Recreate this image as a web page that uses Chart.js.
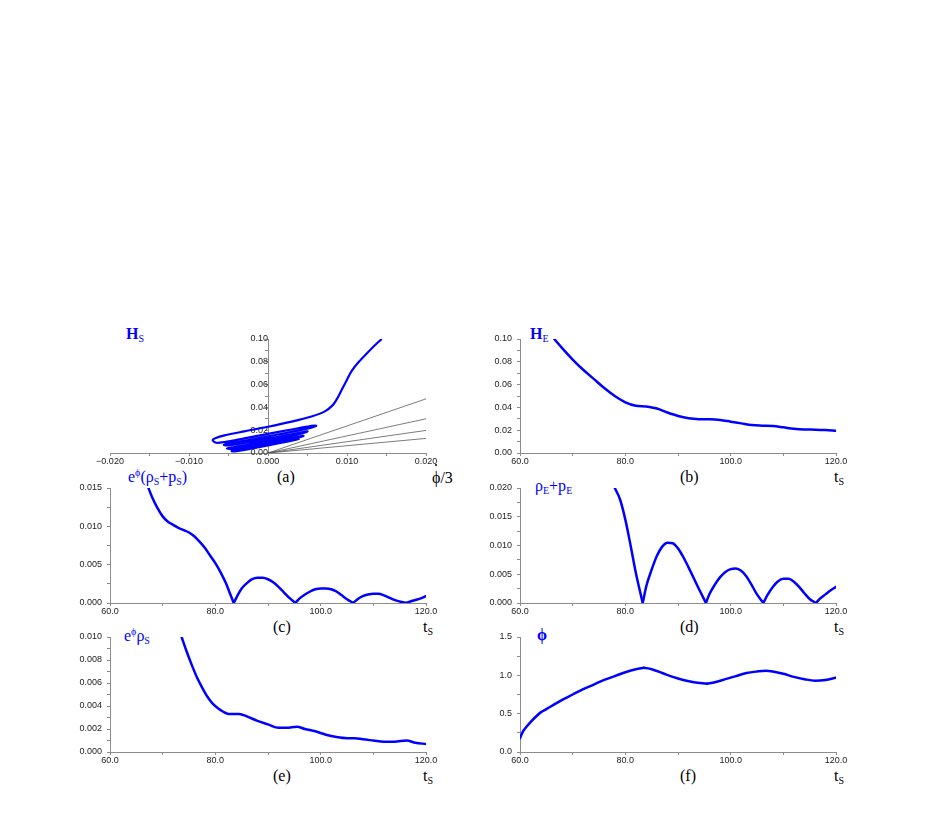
<!DOCTYPE html>
<html>
<head>
<meta charset="utf-8">
<script src="https://cdn.jsdelivr.net/npm/chart.js@4.4.0/dist/chart.umd.min.js"></script>
<style>
body { margin: 0; background: #fff; width: 926px; height: 817px; position: relative; overflow: hidden; }
canvas { position: absolute; }
.lab { position: absolute; font-family: "Liberation Serif", "DejaVu Serif", serif; font-size: 16px; line-height: 1; white-space: nowrap; color: #000; }
.blue { color: #0000ff; }
.bold { font-weight: bold; }
.lab sub { font-size: 10px; vertical-align: -3px; font-weight: normal; }
.lab sup { font-size: 10px; vertical-align: 6px; font-weight: normal; }
.dot { position: relative; display: inline-block; }
.dot i { position: absolute; left: 3px; top: -6px; width: 2px; height: 2px; background: #000; border-radius: 1px; }
</style>
</head>
<body>

<div class="lab blue bold" style="left:126px;top:326px">H<sub>S</sub></div>
<div class="lab blue bold" style="left:530px;top:326px">H<sub>E</sub></div>
<div class="lab" style="left:277px;top:469px">(a)</div>
<div class="lab" style="left:432px;top:470px"><span class="dot">ϕ<i></i></span>/3</div>
<div class="lab" style="left:680px;top:469px">(b)</div>
<div class="lab" style="left:834px;top:469px">t<sub>S</sub></div>

<div class="lab blue" style="left:128px;top:468px">e<sup>ϕ</sup>(ρ<sub>S</sub>+p<sub>S</sub>)</div>
<div class="lab blue" style="left:535px;top:478px">ρ<sub>E</sub>+p<sub>E</sub></div>
<div class="lab" style="left:273px;top:619px">(c)</div>
<div class="lab" style="left:423px;top:619px">t<sub>S</sub></div>
<div class="lab" style="left:680px;top:619px">(d)</div>
<div class="lab" style="left:834px;top:619px">t<sub>S</sub></div>

<div class="lab blue" style="left:124px;top:627px">e<sup>ϕ</sup>ρ<sub>S</sub></div>
<div class="lab blue bold" style="left:537px;top:627px">ϕ</div>
<div class="lab" style="left:273px;top:768px">(e)</div>
<div class="lab" style="left:423px;top:768px">t<sub>S</sub></div>
<div class="lab" style="left:680px;top:768px">(f)</div>
<div class="lab" style="left:834px;top:768px">t<sub>S</sub></div>

<script>
// (a) phase plot: dot(phi)/3 against H_S
const phiDotS = [0.0144, 0.0136, 0.0126, 0.0115, 0.0106, 0.0099, 0.0093, 0.0087, 0.0082, 0.0072,
    0.0055, 0.0030, 0.0000, -0.0030, -0.0055, -0.0066, -0.0070, -0.0066, -0.0055, -0.0030, 0.0000,
    0.0030, 0.0055, 0.0061, 0.0056, 0.0030, 0.0000, -0.0030, -0.0050, -0.0056, -0.0050,
    -0.0030, 0.0000, 0.0030, 0.0046, 0.0050, 0.0045, 0.0030, 0.0000, -0.0030, -0.0046,
    -0.0052, -0.0046, -0.0030, 0.0000, 0.0030, 0.0042, 0.0045, 0.0040, 0.0020, 0.0000,
    -0.0030, -0.0044, -0.0046, -0.0040, -0.0020, 0.0000, 0.0030, 0.0040];
const hS = [0.1000, 0.0950, 0.0880, 0.0800, 0.0720, 0.0630, 0.0550, 0.0470, 0.0420, 0.0365,
    0.0320, 0.0275, 0.0230, 0.0190, 0.0155, 0.0132, 0.0112, 0.0090, 0.0096, 0.0128, 0.0168,
    0.0206, 0.0238, 0.0240, 0.0225, 0.0185, 0.0146, 0.0106, 0.0082, 0.0070, 0.0066,
    0.0088, 0.0126, 0.0164, 0.0186, 0.0190, 0.0176, 0.0150, 0.0108, 0.0068, 0.0048,
    0.0040, 0.0036, 0.0055, 0.0092, 0.0130, 0.0148, 0.0150, 0.0138, 0.0105, 0.0078,
    0.0040, 0.0022, 0.0016, 0.0016, 0.0040, 0.0066, 0.0108, 0.0125];
const rayEndPhiDot = 0.020;
const rayEndH = [0.0475, 0.030, 0.0198, 0.0128];

// (b) H_E
const tHE = [66.5, 68, 70, 72, 74, 76, 78, 80, 82, 84, 86, 88, 90, 92, 94, 96, 98, 100,
    102, 104, 106, 108, 110, 112, 114, 116, 118, 120];
const hE = [0.100, 0.092, 0.082, 0.073, 0.065, 0.057, 0.050, 0.0445, 0.0415, 0.0408, 0.0390,
    0.0355, 0.0325, 0.0305, 0.0297, 0.0296, 0.0290, 0.0275, 0.0260, 0.0245, 0.0240, 0.0237,
    0.0225, 0.0212, 0.0206, 0.0205, 0.0202, 0.0195];

// (c) e^phi (rho_S + p_S)
const tSum = [67.3, 68, 69, 70, 71, 72, 73, 74, 75, 76, 77, 78, 79, 80, 81, 82, 82.8, 83.5,
    84.3, 85, 86, 87, 88, 89, 90, 91, 92, 93, 94, 95.2, 96, 97, 98, 99, 100, 101, 102, 103,
    104, 105, 106.2, 107, 108, 109, 110, 111, 112, 113, 114, 115, 116.3, 117, 118, 119, 120];
const sumS = [0.0150, 0.0138, 0.0124, 0.0113, 0.0106, 0.0102, 0.0098, 0.0095, 0.0092, 0.0087,
    0.0080, 0.0072, 0.0062, 0.0052, 0.0040, 0.0026, 0.0012, 0.0000, 0.0011, 0.0019, 0.0026,
    0.0031, 0.0033, 0.0033, 0.0031, 0.0027, 0.0021, 0.0014, 0.0007, 0.0000, 0.0006, 0.0011,
    0.0015, 0.0018, 0.0019, 0.0019, 0.0018, 0.0015, 0.0010, 0.0005, 0.0000, 0.0005, 0.0009,
    0.0011, 0.0012, 0.0012, 0.0010, 0.0007, 0.0004, 0.0002, 0.0000, 0.0002, 0.0004, 0.0006,
    0.0009];
const cuspSum = [83.5, 95.2, 106.2, 116.3];

// (d) rho_E + p_E
const tSumE = [78, 79, 80, 81, 82, 83.3, 84, 85, 86, 87, 88, 89, 90, 91, 92, 93, 94, 95.3, 96,
    97, 98, 99, 100, 101, 102, 103, 104, 105, 106.2, 107, 108, 109, 110, 111, 112, 113, 114,
    115, 116.2, 117, 118, 119, 120];
const sumE = [0.0200, 0.0180, 0.0145, 0.0100, 0.0052, 0.0000, 0.0030, 0.0058, 0.0082, 0.0098,
    0.0105, 0.0104, 0.0095, 0.0080, 0.0062, 0.0043, 0.0024, 0.0000, 0.0016, 0.0032, 0.0045,
    0.0054, 0.0059, 0.0060, 0.0056, 0.0046, 0.0031, 0.0015, 0.0000, 0.0014, 0.0028, 0.0038,
    0.0042, 0.0042, 0.0037, 0.0028, 0.0017, 0.0007, 0.0000, 0.0008, 0.0015, 0.0022, 0.0028];
const cuspSumE = [83.3, 95.3, 106.2, 116.2];

// (e) e^phi rho_S
const tRho = [73.6, 74.5, 75.5, 76.5, 77.5, 78.5, 79.5, 80.5, 81.5, 82.5, 83.5, 84.5, 86, 88,
    90, 92, 93.5, 95.5, 97, 99, 101, 103, 105, 106.5, 108, 110, 112, 114, 116.3, 118, 120];
const rhoS = [0.0100, 0.0088, 0.0076, 0.0065, 0.0056, 0.0048, 0.0042, 0.0038, 0.0035, 0.0033,
    0.0033, 0.0033, 0.0031, 0.0027, 0.0024, 0.0021, 0.0021, 0.0022, 0.0020, 0.0018, 0.0015,
    0.0013, 0.0012, 0.0012, 0.0011, 0.0010, 0.0009, 0.0009, 0.0010, 0.0008, 0.0007];

// (f) phi
const tPhi = [60, 60.5, 61, 62, 63, 64, 65, 66, 68, 70, 72, 74, 76, 78, 80, 82, 83.5, 85, 87,
    89, 91, 93, 95.5, 97, 99, 101, 103, 105, 106.7, 108, 110, 112, 114, 116, 118, 120];
const phi = [0.18, 0.26, 0.31, 0.39, 0.46, 0.52, 0.56, 0.60, 0.68, 0.75, 0.82, 0.88, 0.94,
    0.99, 1.04, 1.08, 1.10, 1.08, 1.03, 0.98, 0.94, 0.91, 0.89, 0.91, 0.95, 0.99, 1.03, 1.05,
    1.06, 1.05, 1.02, 0.98, 0.95, 0.93, 0.94, 0.97];
const cuspPhi = [83.5, 95.5];

const PAD_L = 70, PAD_T = 20, PAD_R = 30, PAD_B = 25;
const BLUE = '#0000ff';
const GREY = '#8c8c8c';
const tickFont = { family: '"Liberation Sans", Arial, sans-serif', size: 9 };

function makeCanvas(l, t, r, b) {
    const c = document.createElement('canvas');
    c.width = r - l + PAD_L + PAD_R;
    c.height = b - t + PAD_T + PAD_B;
    c.style.left = (l - PAD_L) + 'px';
    c.style.top = (t - PAD_T) + 'px';
    document.body.appendChild(c);
    return c;
}

function fmt(v, d) {
    const r = Math.round(v * 1e6) / 1e6;
    return r < 0 ? '\u2212' + Math.abs(r).toFixed(d) : r.toFixed(d);
}

function xAxis(min, max, step, digits) {
    return {
        type: 'linear', min: min, max: max,
        border: { color: GREY, width: 1 },
        grid: { drawOnChartArea: false, tickLength: 3, color: GREY },
        ticks: {
            stepSize: step / 2, autoSkip: false, maxRotation: 0, padding: 0,
            font: tickFont, color: '#222',
            callback: (v, i) => i % 2 === 0 ? fmt(v, digits) : ''
        },
        afterFit: s => { s.height = PAD_B; s.paddingLeft = 0; s.paddingRight = 0; }
    };
}

function yAxis(max, step, digits) {
    return {
        type: 'linear', min: 0, max: max,
        border: { color: GREY, width: 1 },
        grid: { drawOnChartArea: false, tickLength: 3, color: GREY },
        ticks: {
            stepSize: step / 2, autoSkip: false, padding: 5,
            font: tickFont, color: '#222',
            callback: (v, i) => i % 2 === 0 ? fmt(v, digits) : ''
        },
        afterFit: s => { s.width = PAD_L; s.paddingTop = 0; s.paddingBottom = 0; }
    };
}

function series(xs, ys) {
    return xs.map((x, i) => ({ x: x, y: ys[i] }));
}

// split a curve at its cusps so each arch gets its own smooth piece
function pieces(xs, ys, cuts) {
    const out = [[]];
    xs.forEach((x, i) => {
        out[out.length - 1].push({ x: x, y: ys[i] });
        if (cuts.includes(x)) out.push([{ x: x, y: ys[i] }]);
    });
    return out.filter(p => p.length > 1);
}

function timePanel(l, t, r, b, xs, ys, cuts, yMax, yStep, yDigits) {
    new Chart(makeCanvas(l, t, r, b), {
        type: 'line',
        data: {
            datasets: pieces(xs, ys, cuts).map(p => ({
                data: p,
                borderColor: BLUE, borderWidth: 2.5, borderCapStyle: 'round', borderJoinStyle: 'round',
                pointRadius: 0, cubicInterpolationMode: 'monotone'
            }))
        },
        options: {
            responsive: false, animation: false,
            layout: { padding: { left: 0, top: PAD_T, right: PAD_R, bottom: 0 } },
            plugins: { legend: { display: false }, tooltip: { enabled: false } },
            scales: {
                x: xAxis(60, 120, 20, 1),
                y: yAxis(yMax, yStep, yDigits)
            }
        }
    });
}

// (a)
const rays = rayEndH.map(h => ({
    data: [{ x: 0, y: 0 }, { x: rayEndPhiDot, y: h }],
    borderColor: '#444', borderWidth: 0.7, pointRadius: 0, showLine: true
}));
const yA = yAxis(0.10, 0.02, 2);
yA.position = { x: 0 };
new Chart(makeCanvas(110, 339, 426, 453), {
    type: 'scatter',
    data: {
        datasets: [{
            data: series(phiDotS, hS),
            borderColor: BLUE, borderWidth: 2.2, borderJoinStyle: 'round',
            pointRadius: 0, showLine: true, tension: 0.3
        }].concat(rays)
    },
    options: {
        responsive: false, animation: false,
        layout: { padding: { left: PAD_L, top: PAD_T, right: PAD_R, bottom: 0 } },
        plugins: { legend: { display: false }, tooltip: { enabled: false } },
        scales: {
            x: xAxis(-0.02, 0.02, 0.01, 3),
            y: yA
        }
    }
});

timePanel(520, 339, 836, 453, tHE, hE, [], 0.10, 0.02, 2);
timePanel(110, 488, 426, 603, tSum, sumS, cuspSum, 0.015, 0.005, 3);
timePanel(520, 488, 836, 603, tSumE, sumE, cuspSumE, 0.020, 0.005, 3);
timePanel(110, 637, 426, 752, tRho, rhoS, [], 0.010, 0.002, 3);
timePanel(520, 637, 836, 752, tPhi, phi, cuspPhi, 1.5, 0.5, 1);
</script>
</body>
</html>
